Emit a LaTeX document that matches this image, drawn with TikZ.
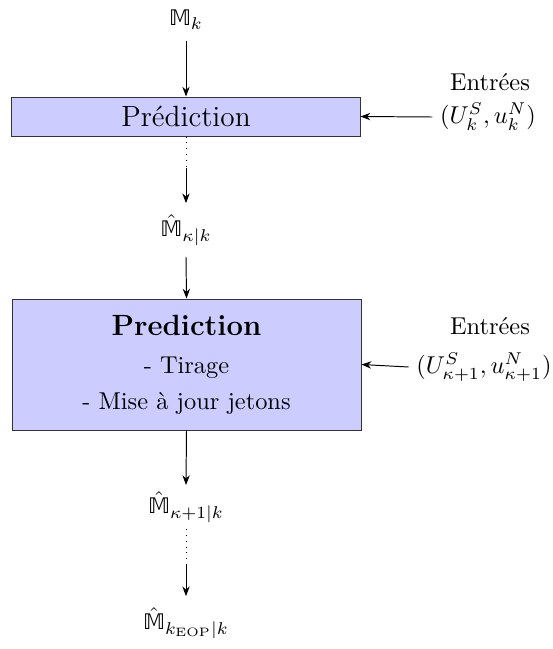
\documentclass[tikz,border=0pt]{standalone}
\usepackage{amsmath,amssymb}
\usepackage{fontspec}
\setmainfont{Latin Modern Roman}
\newfontfamily\dvsfont{DejaVu Sans}[Scale=0.88]
\newcommand{\MM}{\mathord{\text{\dvsfont 𝕄}}}
\usetikzlibrary{arrows.meta}
\definecolor{boxfill}{RGB}{204,204,255}
\tikzset{
  x=0.41pt, y=-0.41pt,
  procbox/.style={draw=black!80, fill=boxfill, line width=0.4pt, inner sep=0pt, align=center},
  conn/.style={-{Stealth[length=4pt,width=3pt]}, line width=0.4pt},
  dotconn/.style={dotted, line width=0.4pt},
  lab/.style={inner sep=1pt},
  mlab/.style={inner ysep=4.5pt, inner xsep=1pt},
  inlab/.style={inner xsep=3pt, inner ysep=1pt}
}
\begin{document}
\begin{tikzpicture}
\useasboundingbox (0,0) rectangle (553,649);
\node[mlab] (mk) at (186,20) {$\MM_k$};
\node[procbox, minimum width=142.7pt, minimum height=16pt] (p1) at (186,116.5) {\large Prédiction};
\node[lab] (e1) at (490,82) {Entrées};
\node[inlab] (in1) at (488,117) {$(U_k^S,u_k^N)$};
\coordinate (c1) at (186,168);
\node[mlab] (mh1) at (186,230) {$\hat{\MM}_{\kappa|k}$};
\node[procbox, minimum width=143.1pt, minimum height=53.7pt] (p2) at (186.5,364.5)
  {{\large\bfseries Prediction}\\[3.6pt]- Tirage\\[2.8pt]- Mise à jour jetons};
\node[lab] (e2) at (490,326) {Entrées};
\node[inlab] (in2) at (484,367) {$(U_{\kappa+1}^S,u_{\kappa+1}^N)$};
\node[mlab, inner ysep=2.5pt] (mh2) at (186,507) {$\hat{\MM}_{\kappa+1|k}$};
\coordinate (c2) at (186,565);
\node[mlab] (mh3) at (186,623) {$\hat{\MM}_{k_{\mathrm{EOP}}|k}$};

\draw[conn] (mk.south) -- (p1.north);
\draw[conn] (in1.west) -- (p1.east);
\draw[dotconn] (p1.south) -- (c1);
\draw[conn] (c1) -- (mh1.north);
\draw[conn] (mh1.south) -- (p2.north);
\draw[conn] (in2.west) -- (p2.east);
\draw[conn] (p2.south) -- (mh2.north);
\draw[dotconn] (mh2.south) -- (c2);
\draw[conn] (c2) -- (mh3.north);
\end{tikzpicture}
\end{document}
